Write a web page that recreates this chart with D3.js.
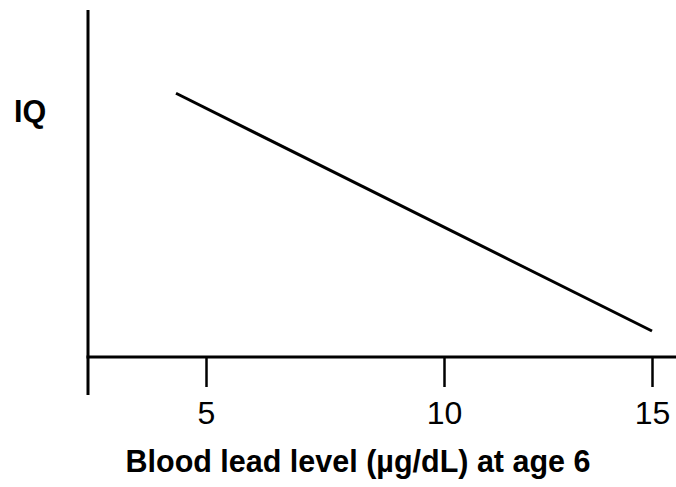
<!DOCTYPE html>
<html>
  <head>
    <meta charset="utf-8" />
    <script src="https://cdn.jsdelivr.net/npm/d3@7"></script>
    <style>
      body { margin: 0; background: #fff; }
      text { font-family: "Liberation Sans", Arial, Helvetica, sans-serif; fill: #000; }
      .title { font-weight: bold; font-size: 30.5px; }
      .tick text { font-size: 32px; }
    </style>
  </head>
  <body>
    <div id="chart"></div>
    <script type="text/javascript">
      var w = 676, h = 487;

      // data
      var leadLevel = [4.37, 15];      // µg/dL at age 6
      var iq = [76, 7.5];              // relative IQ (no scale shown)
      var xTicks = [5, 10, 15];
      var xTitle = "Blood lead level (µg/dL) at age 6";
      var yTitle = "IQ";

      var originX = 88, axisY = 357;

      var svg = d3.select("#chart").append("svg")
        .attr("width", w)
        .attr("height", h);

      // the printed axis is not evenly spaced, so map each tick to where it sits
      var x = d3.scaleLinear().domain([5, 10, 15]).range([206, 444, 652]);
      var y = d3.scaleLinear().domain([0, 100]).range([axisY, 10]);

      // axis frame
      svg.append("line")
        .attr("x1", originX).attr("x2", originX)
        .attr("y1", 10).attr("y2", 395)
        .attr("stroke", "#000").attr("stroke-width", 3);
      svg.append("line")
        .attr("x1", originX - 1.5).attr("x2", w)
        .attr("y1", axisY).attr("y2", axisY)
        .attr("stroke", "#000").attr("stroke-width", 3);

      var xAxis = d3.axisBottom(x)
        .tickValues(xTicks)
        .tickFormat(d3.format("d"))
        .tickSize(30)
        .tickPadding(14);

      var gx = svg.append("g")
        .attr("transform", "translate(0," + axisY + ")")
        .call(xAxis);
      gx.select(".domain").remove();
      gx.attr("font-size", null).attr("font-family", null);
      gx.selectAll(".tick line").attr("stroke", "#000").attr("stroke-width", 2.5);
      gx.selectAll(".tick text").attr("fill", "#000");

      // the line
      var pts = leadLevel.map(function(d, i) { return [d, iq[i]]; });
      svg.append("path")
        .datum(pts)
        .attr("fill", "none")
        .attr("stroke", "#000")
        .attr("stroke-width", 3)
        .attr("d", d3.line().x(function(d) { return x(d[0]); }).y(function(d) { return y(d[1]); }));

      // labels
      svg.append("text")
        .attr("class", "title")
        .attr("x", 358).attr("y", 472)
        .attr("text-anchor", "middle")
        .text(xTitle);
      svg.append("text")
        .attr("class", "title")
        .attr("x", 14).attr("y", 122)
        .text(yTitle);
    </script>
  </body>
</html>
